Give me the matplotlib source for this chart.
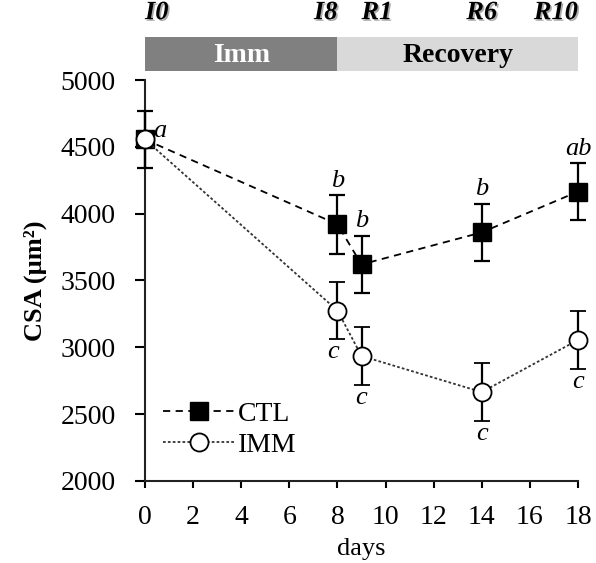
import numpy as np
import matplotlib
matplotlib.use("Agg")
import matplotlib.pyplot as plt
import matplotlib.patheffects as pe
from matplotlib.transforms import blended_transform_factory
from matplotlib.patches import Rectangle
from matplotlib.lines import Line2D

plt.rcParams['font.family'] = ['Liberation Serif', 'DejaVu Serif']

# CSA over time, mean and error
days = [0, 8, 9, 14, 18]
ctl_mean = [4555, 3920, 3620, 3860, 4165]
ctl_err = [215, 220, 215, 215, 215]
imm_mean = [4555, 3275, 2935, 2665, 3055]
imm_err = [215, 215, 215, 215, 215]

ctl_letters = ['a', 'b', 'b', 'b', 'ab']
imm_letters = ['', 'c', 'c', 'c', 'c']

phase_ticks = [0, 8, 9, 14, 18]
phase_labels = ['I0', 'I8', 'R1', 'R6', 'R10']

ctl_ls = (0, (4, 3))
imm_ls = (0, (1.5, 1.2))

fig = plt.figure(figsize=(5.96, 5.63), dpi=100)
ax = fig.add_axes([0.2433, 0.1457, 0.7265, 0.7122])

ctl = ax.errorbar(days, ctl_mean, yerr=ctl_err, color='black', ls=ctl_ls,
                  lw=1.3, marker='s', ms=13, mfc='black', mec='black',
                  ecolor='black', elinewidth=1.6, capsize=5.5, capthick=1.6,
                  zorder=3)
imm = ax.errorbar(days, imm_mean, yerr=imm_err, color='#333333', ls=imm_ls,
                  lw=1.3, marker='o', ms=13, mfc='white', mec='black', mew=1.3,
                  ecolor='black', elinewidth=1.6, capsize=5.5, capthick=1.6,
                  zorder=4)
for art in (ctl, imm):
    art[0].set_clip_on(False)
    for c in art[1]:
        c.set_clip_on(False)
    for c in art[2]:
        c.set_clip_on(False)

# significance letters
for x, m, e, t in zip(days, ctl_mean, ctl_err, ctl_letters):
    if x == 0:
        ax.text(x + 0.35, m + 60, t, fontsize=19, style='italic', ha='left', va='center')
    else:
        ax.text(x, m + e + 25, t, fontsize=19, style='italic', ha='center', va='bottom')
for x, m, e, t in zip(days, imm_mean, imm_err, imm_letters):
    if not t:
        continue
    if x == 8:
        ax.text(x - 0.2, m - e - 10, t, fontsize=19, style='italic', ha='center', va='top')
    else:
        ax.text(x, m - e - 20, t, fontsize=19, style='italic', ha='center', va='top')

ax.set_xlim(0, 18)
ax.set_ylim(2000, 5000)
ax.set_xticks(np.arange(0, 19, 2))
ax.set_yticks(np.arange(2000, 5001, 500))
ax.tick_params(axis='both', labelsize=20, width=1.5, direction='out')
ax.tick_params(axis='y', length=7, pad=14)
ax.tick_params(axis='x', length=5, pad=12)
for s in ['top', 'right']:
    ax.spines[s].set_visible(False)
for s in ['left', 'bottom']:
    ax.spines[s].set_linewidth(1.5)
    ax.spines[s].set_color('#222222')

ax.set_xlabel('days', fontsize=19, labelpad=6)
ax.set_ylabel('CSA (\u00b5m\u00b2)', fontsize=19, fontweight='bold', labelpad=10)

handles = [
    Line2D([], [], color='black', ls=ctl_ls, lw=1.3, marker='s', ms=13,
           mfc='black', mec='black'),
    Line2D([], [], color='#333333', ls=imm_ls, lw=1.3, marker='o', ms=13,
           mfc='white', mec='black', mew=1.3),
]
ax.legend(handles, ['CTL', 'IMM'], loc='lower left', bbox_to_anchor=(0.015, 0.03),
          frameon=False, fontsize=20, handlelength=2.6, handletextpad=0.1,
          labelspacing=0.2, borderaxespad=0)

# phase bar above the axes
tr = blended_transform_factory(ax.transData, ax.transAxes)
ax.add_patch(Rectangle((0, 1.022), 8, 0.085, transform=tr, clip_on=False,
                       facecolor='#808080', edgecolor='none'))
ax.add_patch(Rectangle((8, 1.022), 10, 0.085, transform=tr, clip_on=False,
                       facecolor='#d9d9d9', edgecolor='none'))
ax.text(4, 1.062, 'Imm', transform=tr, ha='center', va='center', fontsize=20,
        fontweight='bold', color='white')
ax.text(13, 1.062, 'Recovery', transform=tr, ha='center', va='center', fontsize=20,
        fontweight='bold', color='black')

shadow = [pe.withSimplePatchShadow(offset=(1.2, -1.2), shadow_rgbFace='#888888', alpha=0.7)]
ha_list = ['left', 'right', 'left', 'center', 'right']
for x, t, h in zip(phase_ticks, phase_labels, ha_list):
    ax.text(x, 1.168, t, transform=tr, ha=h, va='center', fontsize=19,
            fontweight='bold', style='italic', path_effects=shadow)

fig.savefig('out.png', dpi=100)
